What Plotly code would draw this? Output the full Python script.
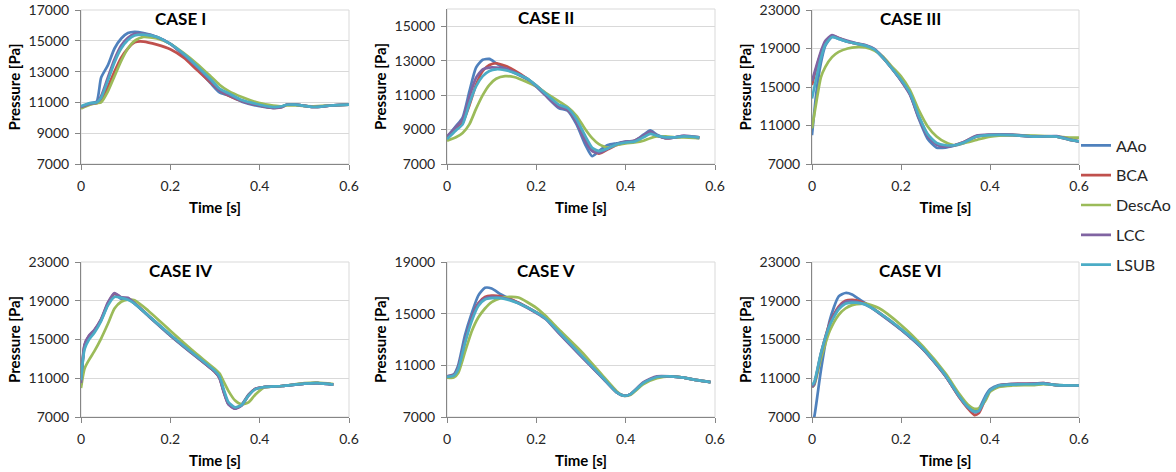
import plotly.graph_objects as go

W, H = 1176, 472

SERIES = ["AAo", "BCA", "DescAo", "LCC", "LSUB"]
COLORS = ["#4F81BD", "#C0504D", "#9BBB59", "#8064A2", "#4BACC6"]
CASE_TITLES = ["CASE I", "CASE II", "CASE III", "CASE IV", "CASE V", "CASE VI"]
X_TICKS = [0, 0.2, 0.4, 0.6]
X_TICK_LABELS = ["0", "0.2", "0.4", "0.6"]
Y_RANGES = [[7000, 17000], [7000, 16000], [7000, 23000],
            [7000, 23000], [7000, 19000], [7000, 23000]]
Y_DTICKS = [2000, 2000, 4000, 4000, 4000, 4000]

# ---------------- CASE I ----------------
case1_t = [0, 0.02, 0.035, 0.045, 0.06, 0.075, 0.09, 0.105, 0.12, 0.14, 0.17, 0.2, 0.23,
           0.26, 0.29, 0.31, 0.33, 0.36, 0.4, 0.43, 0.45, 0.46, 0.48, 0.52, 0.56, 0.6]
case1_aao = [10700, 10950, 11050, 12600, 13400, 14500, 15150, 15500, 15580, 15500, 15250, 14800, 14050,
             13200, 12250, 11650, 11450, 11050, 10750, 10650, 10700, 10850, 10850, 10700, 10800, 10850]
case1_bca = [10700, 10900, 10950, 11100, 12000, 13000, 13900, 14500, 14900, 14950, 14750, 14450, 13900,
             13100, 12300, 11800, 11450, 11100, 10800, 10650, 10700, 10850, 10850, 10700, 10800, 10850]
case1_desc = [10600, 10850, 10950, 11000, 11700, 12700, 13700, 14500, 15000, 15250, 15150, 14800, 14200,
              13500, 12700, 12150, 11750, 11350, 10950, 10800, 10750, 10800, 10800, 10750, 10800, 10850]
case1_lcc = [10700, 10900, 11000, 11400, 12600, 13800, 14700, 15200, 15450, 15450, 15250, 14800, 14100,
             13300, 12400, 11800, 11500, 11100, 10800, 10650, 10700, 10850, 10850, 10700, 10800, 10850]
case1_lsub = [10750, 10950, 11000, 11300, 12400, 13600, 14500, 15050, 15350, 15400, 15250, 14800, 14150,
              13350, 12500, 11900, 11600, 11150, 10850, 10700, 10750, 10850, 10850, 10700, 10800, 10850]

# ---------------- CASE II ----------------
case2_t = [0, 0.02, 0.035, 0.05, 0.065, 0.08, 0.095, 0.11, 0.13, 0.15, 0.18, 0.2, 0.22, 0.25, 0.27,
           0.29, 0.31, 0.325, 0.34, 0.36, 0.38, 0.4, 0.42, 0.44, 0.455, 0.47, 0.49, 0.51, 0.53, 0.565]
case2_aao = [8550, 9200, 9700, 11200, 12600, 13050, 13100, 12850, 12550, 12300, 11900, 11500, 11000, 10250, 10100,
             9300, 8100, 7450, 7750, 8100, 8200, 8300, 8350, 8700, 8950, 8700, 8500, 8550, 8600, 8500]
case2_bca = [8500, 9000, 9400, 10400, 11600, 12400, 12750, 12850, 12700, 12450, 11950, 11550, 11100, 10400, 10150,
             9500, 8400, 7800, 7600, 7850, 8100, 8250, 8350, 8600, 8800, 8650, 8500, 8550, 8600, 8550]
case2_desc = [8350, 8550, 8800, 9300, 10200, 11000, 11600, 11950, 12100, 12050, 11750, 11500, 11150, 10650, 10300,
              9800, 9000, 8500, 8150, 7950, 8100, 8200, 8250, 8350, 8500, 8600, 8600, 8550, 8550, 8500]
case2_lcc = [8600, 9150, 9600, 10900, 12000, 12500, 12600, 12600, 12550, 12350, 11950, 11500, 11000, 10300, 10150,
             9400, 8300, 7750, 7650, 7900, 8150, 8300, 8350, 8650, 8900, 8650, 8500, 8550, 8650, 8550]
case2_lsub = [8450, 8950, 9300, 10500, 11500, 12100, 12400, 12500, 12450, 12300, 11950, 11550, 11100, 10450, 10250,
              9600, 8600, 7950, 7750, 7900, 8150, 8250, 8300, 8550, 8750, 8650, 8550, 8550, 8600, 8550]

# ---------------- CASE III ----------------
case3_t = [0, 0.01, 0.02, 0.03, 0.045, 0.06, 0.08, 0.1, 0.12, 0.14, 0.16, 0.18, 0.2, 0.22,
           0.24, 0.26, 0.28, 0.3, 0.32, 0.34, 0.37, 0.4, 0.45, 0.5, 0.55, 0.58, 0.6]
case3_aao = [10000, 14500, 17500, 19300, 20200, 20000, 19700, 19500, 19300, 18900, 18000, 16900, 15700, 14300,
             11700, 9600, 8700, 8700, 8900, 9150, 9850, 10000, 10000, 9850, 9850, 9500, 9350]
case3_bca = [15200, 17000, 18500, 19600, 20300, 20100, 19700, 19500, 19300, 18900, 18000, 16900, 15700, 14300,
             11900, 10000, 9100, 8850, 8950, 9250, 9900, 10000, 10000, 9850, 9850, 9500, 9350]
case3_desc = [10700, 13500, 16000, 17100, 18100, 18650, 19000, 19150, 19100, 18800, 18150, 17100, 16100, 14700,
              12600, 10900, 9850, 9250, 8950, 9150, 9500, 9850, 10000, 9950, 9850, 9750, 9750]
case3_lcc = [15600, 17200, 18700, 19800, 20400, 20100, 19800, 19550, 19350, 18950, 18050, 16900, 15650, 14200,
             11800, 9900, 9000, 8800, 8950, 9250, 9950, 10050, 10050, 9850, 9900, 9550, 9350]
case3_lsub = [13800, 16000, 18000, 19400, 20200, 20000, 19700, 19500, 19300, 18900, 18000, 16900, 15750, 14400,
              12000, 10100, 9200, 8950, 8950, 9200, 9850, 10000, 10000, 9850, 9850, 9500, 9350]

# ---------------- CASE IV ----------------
case4_t = [0, 0.008, 0.018, 0.03, 0.045, 0.06, 0.075, 0.09, 0.105, 0.12, 0.15, 0.2, 0.25,
           0.3, 0.31, 0.32, 0.33, 0.345, 0.36, 0.375, 0.39, 0.41, 0.45, 0.5, 0.53, 0.565]
case4_aao = [10300, 14300, 15300, 15900, 17000, 18600, 19700, 19200, 19150, 18700, 17450, 15400, 13500,
             11650, 11100, 9600, 8400, 7900, 8300, 9300, 9900, 10100, 10200, 10450, 10500, 10350]
case4_bca = [10400, 14400, 15350, 15950, 17050, 18700, 19750, 19300, 19250, 18750, 17500, 15450, 13550,
             11650, 11050, 9550, 8350, 7900, 8250, 9250, 9900, 10100, 10200, 10450, 10500, 10350]
case4_desc = [10000, 12000, 12900, 13800, 15100, 16600, 18200, 18900, 19100, 19050, 18000, 15900, 13850,
              11950, 11500, 10600, 9700, 8700, 8300, 8500, 9300, 10050, 10200, 10500, 10550, 10400]
case4_lcc = [10500, 14500, 15400, 16000, 17100, 18800, 19800, 19350, 19300, 18750, 17500, 15450, 13550,
             11650, 11000, 9500, 8300, 7850, 8200, 9200, 9900, 10100, 10200, 10450, 10500, 10350]
case4_lsub = [10800, 14000, 15000, 15700, 16900, 18500, 19400, 19300, 19100, 18700, 17500, 15500, 13600,
              11750, 11200, 9800, 8550, 8000, 8250, 9200, 9850, 10100, 10200, 10450, 10500, 10350]

# ---------------- CASE V ----------------
case5_t = [0, 0.015, 0.025, 0.04, 0.055, 0.07, 0.085, 0.1, 0.12, 0.14, 0.16, 0.2, 0.22,
           0.25, 0.3, 0.35, 0.38, 0.395, 0.41, 0.44, 0.47, 0.5, 0.53, 0.56, 0.59]
case5_aao = [10150, 10300, 11000, 13300, 15000, 16400, 17000, 16950, 16500, 16150, 15850, 15100, 14650,
             13550, 11750, 9950, 8900, 8650, 8750, 9650, 10100, 10150, 10050, 9850, 9700]
case5_bca = [10150, 10250, 10800, 12800, 14600, 15800, 16300, 16400, 16350, 16150, 15850, 15100, 14700,
             13600, 11800, 10000, 8900, 8650, 8750, 9650, 10100, 10150, 10050, 9850, 9700]
case5_desc = [10050, 10050, 10400, 12000, 13600, 14700, 15400, 15900, 16200, 16300, 16250, 15450, 14850,
              13800, 12100, 10150, 9000, 8650, 8700, 9550, 10000, 10150, 10050, 9850, 9700]
case5_lcc = [10150, 10250, 10800, 12850, 14600, 15750, 16200, 16300, 16250, 16100, 15800, 15050, 14600,
             13500, 11700, 9950, 8900, 8650, 8750, 9700, 10150, 10150, 10050, 9850, 9700]
case5_lsub = [10100, 10200, 10700, 12700, 14400, 15600, 16100, 16200, 16200, 16050, 15800, 15100, 14650,
              13600, 11800, 10000, 8900, 8650, 8750, 9650, 10100, 10150, 10050, 9850, 9700]

# ---------------- CASE VI ----------------
case6_t = [0, 0.005, 0.02, 0.04, 0.06, 0.075, 0.09, 0.1, 0.12, 0.15, 0.2, 0.25, 0.3,
           0.33, 0.35, 0.365, 0.375, 0.39, 0.4, 0.42, 0.45, 0.5, 0.52, 0.55, 0.6]
case6_aao = [6300, 7000, 11800, 17000, 19450, 19800, 19650, 19350, 18750, 17750, 16000, 13950, 11200,
             9150, 8100, 7650, 7850, 9200, 9850, 10300, 10400, 10400, 10450, 10300, 10250]
case6_bca = [10100, 10400, 13500, 16700, 18400, 19000, 19100, 19050, 18700, 17800, 16050, 14000, 11250,
             9100, 7900, 7200, 7400, 8900, 9700, 10250, 10400, 10450, 10500, 10300, 10250]
case6_desc = [10100, 10300, 13000, 15900, 17550, 18200, 18550, 18650, 18700, 18250, 16500, 14250, 11500,
              9450, 8300, 7850, 7900, 8700, 9600, 10100, 10250, 10300, 10400, 10300, 10250]
case6_lcc = [10100, 10400, 13500, 16600, 18300, 18900, 18950, 18900, 18600, 17750, 16050, 14000, 11250,
             9150, 8000, 7500, 7600, 9000, 9750, 10250, 10400, 10450, 10500, 10300, 10250]
case6_lsub = [10300, 10600, 13600, 16500, 18100, 18700, 18800, 18800, 18600, 17800, 16100, 14050, 11300,
              9200, 8050, 7550, 7650, 9000, 9750, 10250, 10350, 10400, 10450, 10300, 10250]

CASES = [
    (case1_t, [case1_aao, case1_bca, case1_desc, case1_lcc, case1_lsub]),
    (case2_t, [case2_aao, case2_bca, case2_desc, case2_lcc, case2_lsub]),
    (case3_t, [case3_aao, case3_bca, case3_desc, case3_lcc, case3_lsub]),
    (case4_t, [case4_aao, case4_bca, case4_desc, case4_lcc, case4_lsub]),
    (case5_t, [case5_aao, case5_bca, case5_desc, case5_lcc, case5_lsub]),
    (case6_t, [case6_aao, case6_bca, case6_desc, case6_lcc, case6_lsub]),
]

FONT = "Lato, 'Open Sans', sans-serif"
AXIS_COLOR = "#868686"
GRID_COLOR = "#D9D9D9"
TEXT_COLOR = "#262626"

# pixel geometry of the six plot areas (left, right) and (top, bottom)
X_PIX = [(81, 349), (447, 715), (812, 1079)]
Y_PIX = [(10, 164), (262, 417)]
Y_PIX_CASE = {1: (9, 164)}


def fx(px):
    return px / W


def fy(px):
    return 1 - px / H


fig = go.Figure()
layout = {}
annotations = []
shapes = []

for i, (t, series) in enumerate(CASES):
    row, col = divmod(i, 3)
    n = "" if i == 0 else str(i + 1)
    xa, ya = "x" + n, "y" + n
    for name, color, vals in zip(SERIES, COLORS, series):
        fig.add_trace(go.Scatter(
            x=t, y=vals, mode="lines", name=name,
            line=dict(color=color, width=2.7, shape="spline", smoothing=0.6),
            legendgroup=name, showlegend=(i == 0),
            xaxis=xa, yaxis=ya,
        ))
    xl, xr = X_PIX[col]
    yt, yb = Y_PIX_CASE.get(i, Y_PIX[row])
    layout["xaxis" + n] = dict(
        domain=[fx(xl), fx(xr)], anchor=ya, range=[0, 0.6], automargin=False,
        tickvals=X_TICKS, ticktext=X_TICK_LABELS,
        showgrid=False, zeroline=False,
        showline=True, linecolor=AXIS_COLOR, linewidth=1,
        ticks="outside", ticklen=5, tickcolor=AXIS_COLOR, ticklabelstandoff=4,
        tickfont=dict(family=FONT, size=14, color=TEXT_COLOR),
        title=dict(text="<b>Time [s]</b>", standoff=9,
                   font=dict(family=FONT, size=15, color="#000000")),
    )
    layout["yaxis" + n] = dict(
        domain=[fy(yb), fy(yt)], anchor=xa, range=Y_RANGES[i], automargin=False,
        tick0=7000, dtick=Y_DTICKS[i], tickformat="d",
        showgrid=True, gridcolor=GRID_COLOR, gridwidth=1, zeroline=False,
        showline=True, linecolor=AXIS_COLOR, linewidth=1,
        ticks="outside", ticklen=5, tickcolor=AXIS_COLOR, ticklabelstandoff=3,
        tickfont=dict(family=FONT, size=14, color=TEXT_COLOR),
        title=dict(text="<b>Pressure [Pa]</b>", standoff=4,
                   font=dict(family=FONT, size=15, color="#000000")),
    )
    shapes.append(dict(type="rect", xref=xa + " domain", yref=ya + " domain",
                       x0=0, x1=1, y0=0, y1=1, layer="below",
                       line=dict(color=GRID_COLOR, width=1)))
    annotations.append(dict(text="<b>" + CASE_TITLES[i] + "</b>",
                            xref=xa + " domain", yref=ya + " domain",
                            x=0.37, y=0.948, xanchor="center", yanchor="middle",
                            showarrow=False,
                            font=dict(family=FONT, size=17, color="#000000")))

fig.update_layout(
    width=W, height=H,
    margin=dict(l=0, r=0, t=0, b=0, autoexpand=False),
    paper_bgcolor="white", plot_bgcolor="white",
    annotations=annotations, shapes=shapes,
    legend=dict(x=fx(1076), y=fy(205), xanchor="left", yanchor="middle",
                font=dict(family=FONT, size=16, color=TEXT_COLOR),
                tracegroupgap=6, bgcolor="rgba(0,0,0,0)"),
    **layout,
)

# place the figure at the very top-left corner of the page (no default body margin)
fig.write_html("out.html", config={"displayModeBar": False},
               post_script="document.body.style.margin='0px';")
